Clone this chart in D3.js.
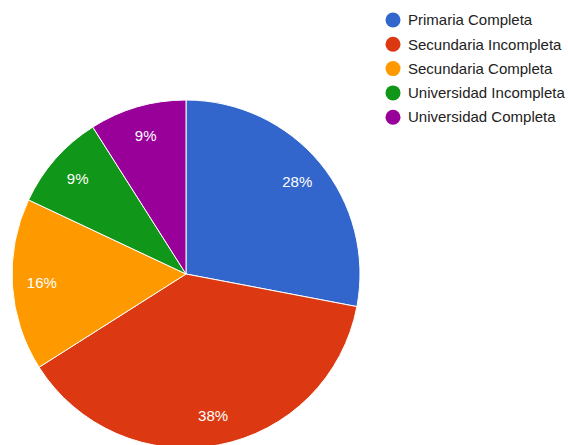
<!DOCTYPE html>
<html>
<head>
<meta charset="utf-8">
<script src="https://cdn.jsdelivr.net/npm/d3@7"></script>
<style>
  body { margin: 0; background: #fff; }
  svg { display: block; font-family: Arial, "Liberation Sans", sans-serif; }
</style>
</head>
<body>
<div id="chart"></div>
<script>
// data
var categories = ["Primaria Completa", "Secundaria Incompleta", "Secundaria Completa", "Universidad Incompleta", "Universidad Completa"];
var values = [28, 38, 16, 9, 9];
var colors = ["#3366cc", "#dc3912", "#ff9900", "#109618", "#990099"];

var width = 568, height = 445;
var cx = 186, cy = 274, radius = 174;

var svg = d3.select("#chart")
    .append("svg")
    .attr("width", width)
    .attr("height", height);

var rows = categories.map(function (c, i) { return { name: c, value: values[i], color: colors[i] }; });
var total = d3.sum(values);

var pie = d3.pie()
    .sort(null)
    .value(function (d) { return d.value; });

var arc = d3.arc().innerRadius(0).outerRadius(radius);
var labelArc = d3.arc().innerRadius(radius * 0.83).outerRadius(radius * 0.83);

var g = svg.append("g")
    .attr("transform", "translate(" + cx + "," + cy + ")");

var slices = g.selectAll(".slice")
    .data(pie(rows))
    .enter().append("g")
    .attr("class", "slice");

slices.append("path")
    .attr("d", arc)
    .attr("fill", function (d) { return d.data.color; })
    .attr("stroke", "#fff")
    .attr("stroke-width", 1);

slices.append("text")
    .attr("transform", function (d) { return "translate(" + labelArc.centroid(d) + ")"; })
    .attr("text-anchor", "middle")
    .attr("dy", "0.35em")
    .attr("fill", "#fff")
    .style("font-size", "15px")
    .text(function (d) { return Math.round(d.data.value / total * 100) + "%"; });

// legend
var legend = svg.append("g")
    .attr("transform", "translate(393,20)");

var item = legend.selectAll(".item")
    .data(rows)
    .enter().append("g")
    .attr("class", "item")
    .attr("transform", function (d, i) { return "translate(0," + (i * 24.3) + ")"; });

item.append("circle")
    .attr("r", 7.5)
    .attr("fill", function (d) { return d.color; });

item.append("text")
    .attr("x", 15)
    .attr("dy", "0.35em")
    .attr("fill", "#222")
    .style("font-size", "15px")
    .text(function (d) { return d.name; });
</script>
</body>
</html>
